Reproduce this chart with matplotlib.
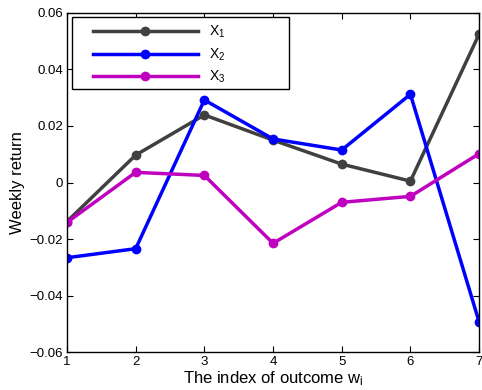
import numpy as np
import matplotlib
matplotlib.use('Agg')
import matplotlib.pyplot as plt
from matplotlib.patches import Rectangle

plt.rcParams.update({'font.family': ['Liberation Sans', 'DejaVu Sans'], 'font.size': 9.5,
                     'mathtext.fontset': 'custom', 'mathtext.rm': 'Liberation Sans',
                     'mathtext.it': 'Liberation Sans'})

outcomes = [1, 2, 3, 4, 5, 6, 7]
x1 = [-0.0138, 0.0097, 0.0239, 0.0150, 0.0065, 0.0005, 0.0525]
x2 = [-0.0266, -0.0234, 0.0292, 0.0154, 0.0115, 0.0312, -0.0493]
x3 = [-0.0141, 0.0036, 0.0025, -0.0215, -0.0070, -0.0049, 0.0102]
labels = ['X$_1$', 'X$_2$', 'X$_3$']
colors = ['#404040', '#0000ff', '#bf00bf']

fig = plt.figure(figsize=(4.82, 3.9), dpi=100)
ax = fig.add_axes([0.139, 0.097, 0.855, 0.870])

for ys, lab, c in zip([x1, x2, x3], labels, colors):
    ax.plot(outcomes, ys, '-o', color=c, linewidth=2.5, markersize=6, label=lab)

ax.set_xlim(1, 7)
ax.set_ylim(-0.06, 0.06)
ax.set_xticks(outcomes)
ax.set_yticks(np.arange(-0.06, 0.061, 0.02))
ax.set_yticklabels(['\u22120.06', '\u22120.04', '\u22120.02', '0', '0.02', '0.04', '0.06'])
ax.tick_params(direction='in', top=True, right=True, length=4, labelsize=9.5, pad=3)
for s in ax.spines.values():
    s.set_linewidth(1.0)

ax.set_xlabel('The index of outcome w$_i$', fontsize=12, labelpad=1)
ax.set_ylabel('Weekly return', fontsize=12, labelpad=3)

# legend box drawn separately (MATLAB-style wide frame)
ax.add_patch(Rectangle((0.012, 0.776), 0.527, 0.212, transform=ax.transAxes,
                       facecolor='white', edgecolor='black', linewidth=1.0, zorder=4))
leg = ax.legend(loc='upper left', bbox_to_anchor=(0.062, 0.968), fontsize=10,
                handlelength=7.6, handletextpad=0.75, frameon=False,
                borderaxespad=0, borderpad=0, labelspacing=0.45)
leg.set_zorder(5)

fig.savefig('out.png', dpi=100)
